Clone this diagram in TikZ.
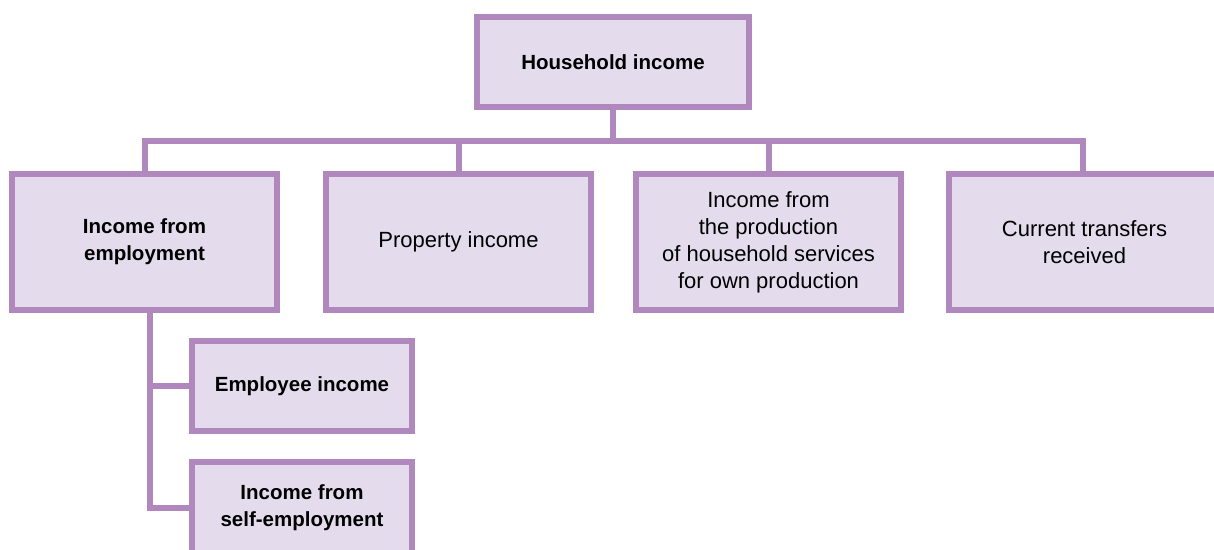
\documentclass[tikz,border=0pt]{standalone}
\usepackage{fontspec}
\setmainfont{Liberation Sans}
\definecolor{lila}{RGB}{176,136,190}
\definecolor{lilafill}{RGB}{228,219,237}
\begin{document}
\begin{tikzpicture}[x=1pt,y=-1pt,line join=miter,font=\fontsize{22}{27}\selectfont,
	box/.style={draw=lila,fill=lilafill,line width=6pt,inner sep=0pt,align=center},
	bold/.style={font=\fontsize{20.5}{27}\selectfont\bfseries},
	link/.style={draw=lila,line width=6pt}]
	\useasboundingbox (0,0) rectangle (1214,549);
	\node[box,bold,minimum width=272pt,minimum height=90pt] (hh) at (613,62) {Household income};
	\tikzset{row/.style={box,minimum width=265pt,minimum height=136pt}}
	\node[row,bold] (b1) at (144.5,242) {Income from\\employment};
	\node[row] (b2) at (458.5,242) {Property income};
	\node[row] (b3) at (768.5,242) {Income from\\the production\\of household services\\for own production};
	\node[row,minimum width=271pt] (b4) at (1084.5,242) {Current transfers\\received};
	\tikzset{sub/.style={box,bold,minimum width=220pt,minimum height=90pt}}
	\node[sub] (emp) at (302,386) {Employee income};
	\node[sub,minimum height=92pt] (self) at (302,508) {Income from\\self-employment};
	\coordinate (bus) at (613,141);
	\coordinate (trunk) at (150,0);
	\coordinate (top4) at (1083,0);
	\draw[link] (hh.south) -- (hh.south |- bus);
	\draw[link] (b1.north) |- (bus) -| (b4.north -| top4);
	\foreach \b in {b2,b3}{\draw[link] (\b.north) -- (\b.north |- bus);}
	\draw[link] (b1.south -| trunk) |- (self.west);
	\draw[link] (emp.west) -- (emp.west -| trunk);
\end{tikzpicture}
\end{document}
